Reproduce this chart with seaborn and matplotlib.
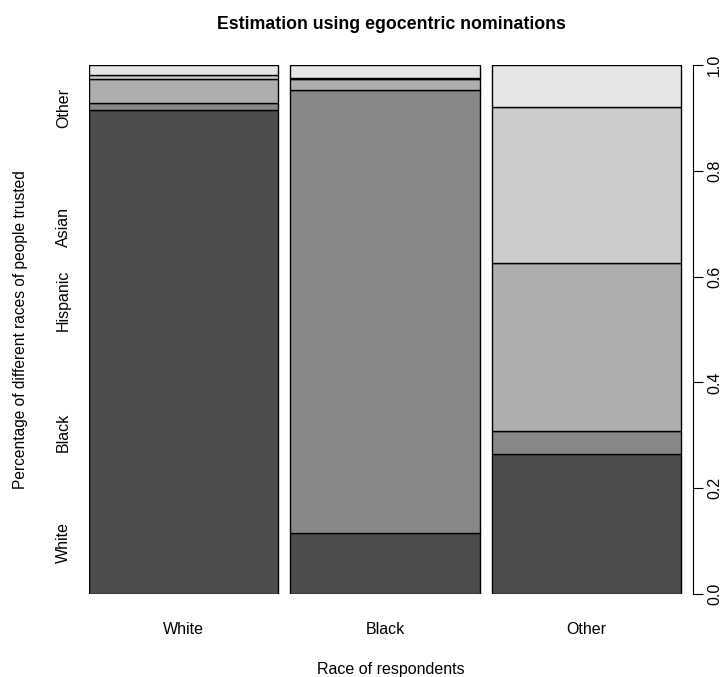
import matplotlib
matplotlib.use("Agg")
import matplotlib.pyplot as plt
import pandas as pd
import numpy as np
import seaborn as sns

# race of respondents (columns) and race of people trusted (stacked segments)
respondents = ["White", "Black", "Other"]
trusted = ["White", "Black", "Hispanic", "Asian", "Other"]

# share of each trusted race, per respondent group
white_resp = [0.915, 0.013, 0.045, 0.009, 0.018]
black_resp = [0.115, 0.838, 0.020, 0.003, 0.024]
other_resp = [0.265, 0.043, 0.318, 0.294, 0.080]

# where the trusted-race labels sit on the left side
trusted_label_pos = [0.098, 0.306, 0.556, 0.694, 0.919]

greys = ["#4D4D4D", "#888888", "#AEAEAE", "#CCCCCC", "#E6E6E6"]

rows = []
for i, shares in enumerate([white_resp, black_resp, other_resp]):
    for t, s in zip(trusted, shares):
        rows.append({"resp": i, "trusted": t, "share": s})
df = pd.DataFrame(rows)

sns.set_style("white")
plt.rcParams["font.family"] = ["Liberation Sans", "DejaVu Sans"]
plt.rcParams["text.color"] = "black"
plt.rcParams["axes.labelcolor"] = "black"
plt.rcParams["xtick.color"] = "black"
plt.rcParams["ytick.color"] = "black"

fs = 11.5

fig = plt.figure(figsize=(7.21, 6.77), dpi=100)
ax = fig.add_axes([89 / 721, 1 - 594 / 677, (693 - 89) / 721, (594 - 65) / 677])

# seaborn stacks the first hue level on top, so reverse the order
sns.histplot(data=df, x="resp", hue="trusted", weights="share",
             hue_order=trusted[::-1], palette=greys[::-1],
             multiple="fill", discrete=True, shrink=0.94,
             edgecolor="black", linewidth=1.0, alpha=1, legend=False, ax=ax)

ax.set_xlim(-0.47, 2.528)
ax.set_ylim(0, 1)
for s in ["top", "left", "bottom", "right"]:
    ax.spines[s].set_visible(False)

ax.set_xticks(range(len(respondents)))
ax.set_xticklabels(respondents, fontsize=fs)
ax.tick_params(axis="x", length=0, pad=20)
ax.set_xlabel("Race of respondents", fontsize=fs, labelpad=18)

ax.set_yticks(trusted_label_pos)
ax.set_yticklabels(trusted, rotation=90, va="center", fontsize=fs)
ax.tick_params(axis="y", length=0, pad=13)
ax.set_ylabel("Percentage of different races of people trusted", fontsize=11.2, labelpad=20)

sec = ax.secondary_yaxis("right")
sec.set_yticks(np.arange(0, 1.01, 0.2))
sec.set_yticklabels([f"{v:.1f}" for v in np.arange(0, 1.01, 0.2)],
                    rotation=90, va="center", fontsize=fs)
sec.tick_params(axis="y", length=7, width=0.8, pad=3, color="black")
sec.spines["right"].set_visible(True)
sec.spines["right"].set_color("black")
sec.spines["right"].set_linewidth(0.8)

ax.set_title("Estimation using egocentric nominations", fontsize=12.8,
             fontweight="bold", pad=26)

fig.savefig("out.png", dpi=100)
